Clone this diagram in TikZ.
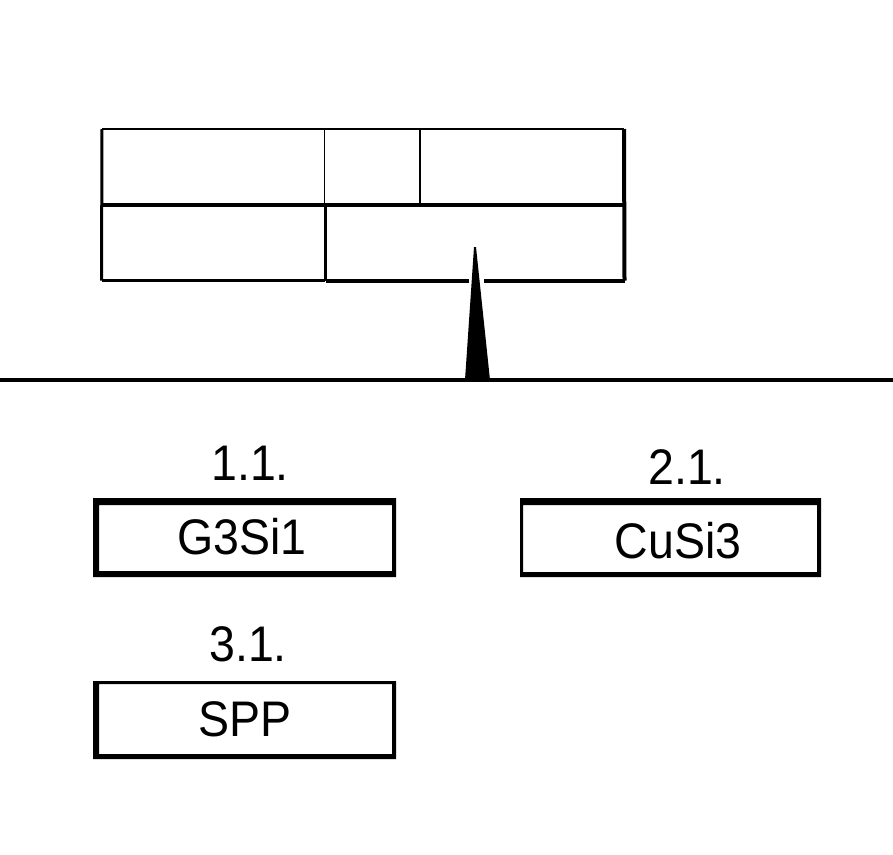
\documentclass[tikz,border=0pt]{standalone}
\usepackage{fontspec}
\setmainfont{Liberation Sans}
\newfontfamily\lblfont[FakeStretch=0.93]{Liberation Sans}
\begin{document}
\begin{tikzpicture}[x=1pt,y=-1pt,
  frame/.style={fill=black,even odd rule},
  slot/.style={inner sep=0pt,outer sep=0pt},
  lbl/.style={anchor=base,inner sep=0pt,font=\lblfont\fontsize{50}{50}\selectfont},
  rule/.style={line width=4pt,draw=black}]
\useasboundingbox (0,0) rectangle (893,854);
\fill[white] (0,0) rectangle (893,854);
% table
\node[slot,minimum width=222pt,minimum height=76pt] (c1) at (213,167) {};
\node[slot,minimum width=96pt,minimum height=76pt] (c2) at (372,167) {};
\node[slot,minimum width=204pt,minimum height=76pt] (c3) at (522,167) {};
\node[slot,minimum width=223pt,minimum height=75pt] (c4) at (213,243) {};
\node[slot,minimum width=299pt,minimum height=75pt] (c5) at (475,243) {};
\draw[line width=2pt] (c1.north west) -- (c3.north east);
\draw[line width=3pt] (c1.north west) -- (c4.south west);
\draw[line width=4pt] (c3.north east) -- (c5.south east);
\draw[line width=4pt] (c1.south west) -- (c3.south east);
\draw[line width=1pt] (c1.north east) -- (c1.south east);
\draw[line width=2pt] (c2.north east) -- (c2.south east);
\draw[line width=3pt] (c5.north west) -- (c5.south west);
\draw[line width=2.5pt] (c4.south west) -- (c4.south east);
\draw[line width=4pt] (c5.south west) -- (c5.south east);
% spike with white halo through the table's lower edge
\coordinate (bl) at (465,380);
\coordinate (br) at (490,380);
\fill[white] (469,277) rectangle (484,283);
\fill[black] (bl) -- (474,247) -- (476,247) -- (br) -- cycle;
% baseline
\coordinate (la) at (0,380);
\coordinate (lb) at (893,380);
\draw[rule] (la) -- (lb);
% boxes: outer edge and inner edge give each side its own weight
\node[slot,minimum width=303pt,minimum height=79pt] (b1) at (244.5,537.5) {};
\fill[frame] (b1.north west) rectangle (b1.south east) (99,505) rectangle (392,571);
\node[slot,minimum width=301pt,minimum height=79pt] (b2) at (670.5,537.5) {};
\fill[frame] (b2.north west) rectangle (b2.south east) (523,505) rectangle (817,572);
\node[slot,minimum width=303pt,minimum height=78pt] (b3) at (244.5,720) {};
\fill[frame] (b3.north west) rectangle (b3.south east) (99,684) rectangle (392,754);
% labels
\node[lbl] (t1) at (250,480) {1.1.};
\node[lbl] (t2) at (687,484) {2.1.};
\node[lbl] (t3) at (248,661) {3.1.};
\node[lbl] (n1) at (242,554) {G3Si1};
\node[lbl] (n2) at (678,558) {CuSi3};
\node[lbl] (n3) at (245,736) {SPP};
\end{tikzpicture}
\end{document}
